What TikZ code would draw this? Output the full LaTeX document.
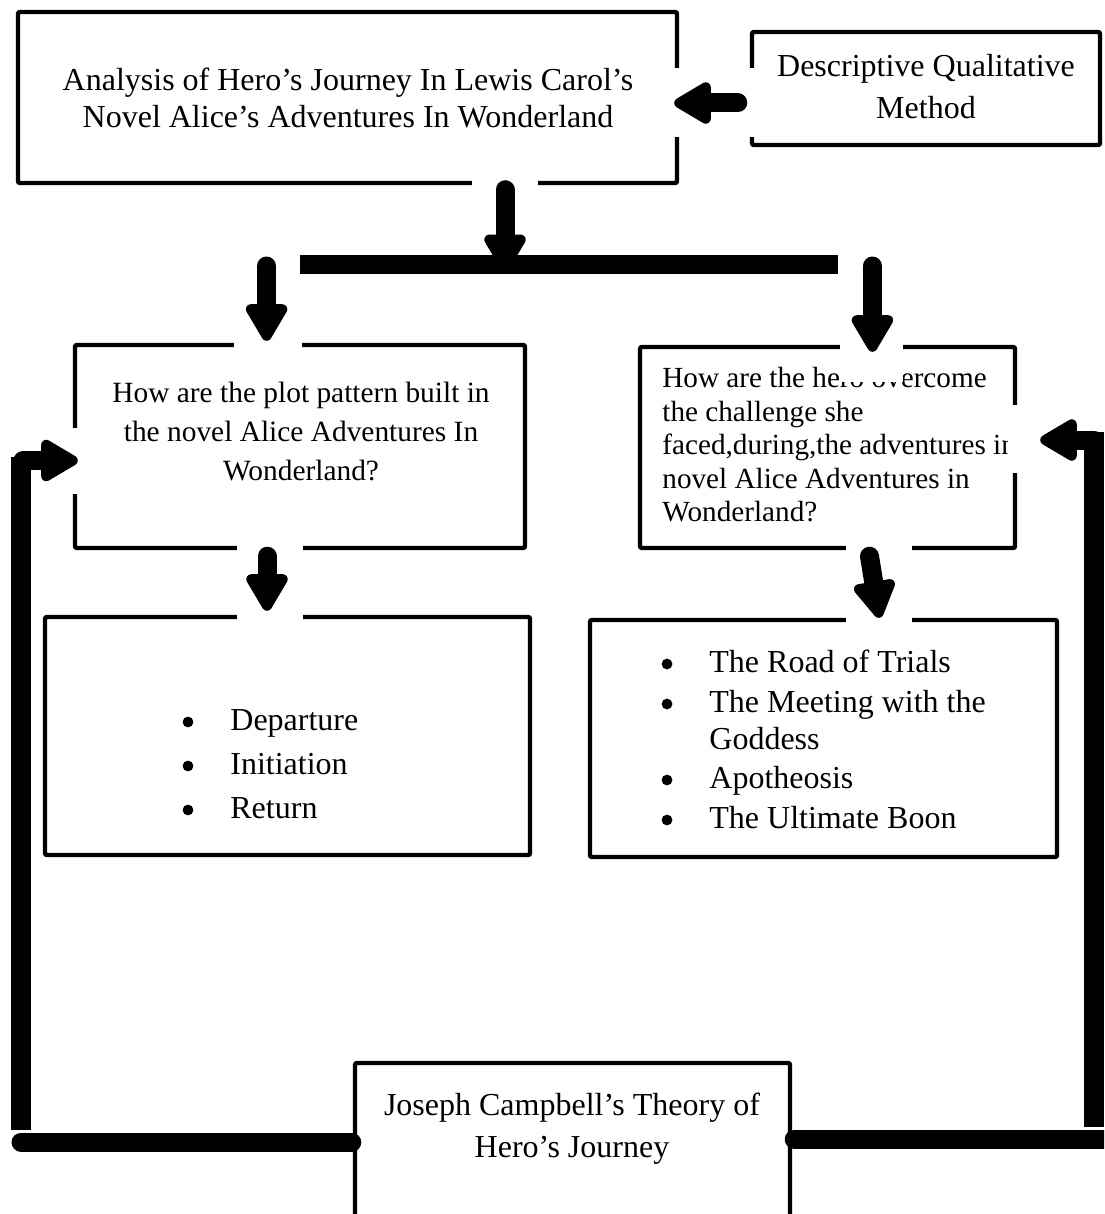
\documentclass[tikz,border=0pt]{standalone}
\usepackage{fontspec}
\setmainfont{Liberation Serif}
\usetikzlibrary{arrows.meta,calc}

\begin{document}
\begin{tikzpicture}[x=0.5pt,y=-0.5pt,
	box/.style={draw,line width=2.2pt,rounded corners=1pt,inner sep=0pt},
	txt/.style={inner sep=0pt},
	dot/.style={circle,fill,inner sep=0pt,minimum size=5.4pt},
	wipe/.style={fill=white},
	fat/.style={line width=9.5pt,line cap=round,-{Triangle[round,length=21pt,width=23pt,line width=5pt 0]}},
	hbar/.style={line width=9.5pt,line cap=round},
	vbar/.style={line width=10pt}]
	\useasboundingbox (0,0) rectangle (1104,1214);
	\clip (0,0) rectangle (1104,1214);
	% boxes
	\node[box,minimum width=329.5pt,minimum height=85.5pt] (analysis) at (347.5,97.5) {};
	\node[box,minimum width=174pt,minimum height=56.5pt] (method) at (926,88.5) {};
	\node[box,minimum width=225pt,minimum height=101.5pt] (plotq) at (300,446.5) {};
	\node[box,minimum width=187.5pt,minimum height=100.5pt] (heroq) at (827.5,447.5) {};
	\node[box,minimum width=242.5pt,minimum height=119pt] (stages) at (287.5,736) {};
	\node[box,minimum width=233.5pt,minimum height=118.5pt] (trials) at (823.5,738.5) {};
	\node[box,minimum width=217.5pt,minimum height=93.5pt] (theory) at (572.5,1156.5) {};
	% texts
	\node[txt,anchor=north,align=center,font=\fontsize{16}{18.5}\selectfont] (analysisT) at (348,68) {Analysis of Hero’s Journey In Lewis Carol’s\\Novel Alice’s Adventures In Wonderland};
	\node[txt,anchor=north,align=center,font=\fontsize{16}{21}\selectfont] (methodT) at (926,54) {Descriptive Qualitative\\Method};
	\node[txt,anchor=north,align=center,font=\fontsize{14.7}{19.5}\selectfont] (plotqT) at (301,382) {How are the plot pattern built in\\the novel Alice Adventures In\\Wonderland?};
	\node[txt,anchor=north west,align=left,font=\fontsize{14.6}{16.75}\selectfont] (heroqT) at (662,367) {How are the hero overcome\\the challenge she\\faced,during,the adventures in\\novel Alice Adventures in\\Wonderland?};
	\node[txt,anchor=north,align=center,font=\fontsize{16}{21}\selectfont] (theoryT) at (572,1093) {Joseph Campbell’s Theory of\\Hero’s Journey};
	\foreach \t [count=\i] in {Departure,Initiation,Return}{
		\node[dot] (ldot\i) at (188,{722+44*(\i-1)}) {};
		\node[txt,anchor=base west,font=\fontsize{16}{20}\selectfont] (litem\i) at (230,{730+44*(\i-1)}) {\t};
	}
	\foreach \t/\yy [count=\i] in {The Road of Trials/672,The Meeting with the/712,Goddess/749,Apotheosis/788,The Ultimate Boon/828}
		\node[txt,anchor=base west,font=\fontsize{16}{20}\selectfont] (ritem\i) at (709,\yy) {\t};
	\foreach \yy [count=\i] in {664,704,780,820}
		\node[dot] (rdot\i) at (667,\yy) {};
	% white gaps round the arrows
	\fill[wipe] (668,68) rectangle (757,137);
	\fill[wipe] (472,176) rectangle (538,190);
	\fill[wipe] (234,338) rectangle (302,352);
	\fill[wipe] (840,338) rectangle (903,382);
	\fill[wipe] (237,540) rectangle (303,624);
	\fill[wipe] (846,540) rectangle (912,626);
	\fill[wipe] (40,428) rectangle (84,494);
	\fill[wipe] (1008,405) rectangle (1085,473);
	% arrows
	\draw[fat] ($(method.west)+(-12,14.5)$) -- ($(analysis.east |- method.west)+(-5,14.5)$);
	\coordinate (drop) at ($(analysis.south)+(157.5,0)$);
	\draw[fat] ($(drop)+(0,4.5)$) -- ($(drop)+(0,86)$);
	\node[fill,inner sep=0pt,minimum width=269pt,minimum height=9.5pt] (split) at (569,264) {};
	\draw[fat] ($(split.west)+(-33,2)$) -- ($(split.west |- plotq.north)+(-33,-2)$);
	\draw[fat] ($(split.east)+(34,2)$) -- ($(split.east |- heroq.north)+(34,7)$);
	\draw[fat] ($(plotq.south)+(-33,6)$) -- ($(stages.north -| plotq.south)+(-33,-4)$);
	\draw[fat] ($(heroq.south)+(42,6)$) -- ($(trials.north)+(56,0)$);
	% back from the theory
	\coordinate (lcorner) at (21,1142);
	\coordinate (rcorner) at (1094,1139);
	\draw[vbar] ($(lcorner)+(0,-12)$) -- ($(lcorner |- plotq.west)+(0,10)$);
	\draw[fat] ($(lcorner |- plotq.west)+(2,14)$) -- ($(plotq.west)+(5,14)$);
	\draw[hbar] ($(theory.west |- lcorner)+(-1,0)$) -- (lcorner);
	\draw[vbar] ($(rcorner)+(0,-12)$) -- ($(rcorner |- heroq.east)+(0,-16)$);
	\draw[fat] ($(rcorner |- heroq.east)+(0,-7.5)$) -- ($(heroq.east)+(23,-7.5)$);
	\draw[hbar] ($(theory.east |- rcorner)+(2,0)$) -- ($(rcorner)+(20,0)$);
\end{tikzpicture}
\end{document}
